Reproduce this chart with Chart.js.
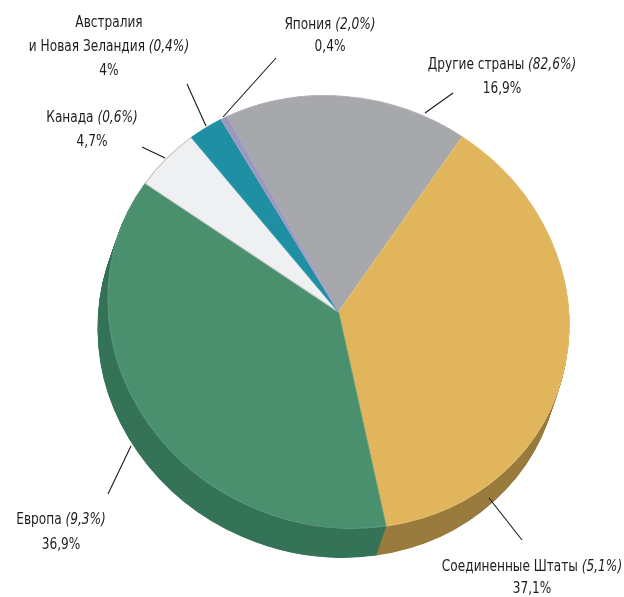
<!DOCTYPE html>
<html>
<head>
<meta charset="utf-8">
<script src="https://cdn.jsdelivr.net/npm/chart.js@4.4.1/dist/chart.umd.min.js"></script>
<style>
  html, body { margin: 0; padding: 0; background: #ffffff; }
  #wrap { width: 624px; height: 597px; position: relative; }
</style>
</head>
<body>
<div id="wrap"><canvas id="c" width="624" height="597"></canvas></div>
<script>
// ---- data ----
const categories = ['Другие страны', 'Соединенные Штаты', 'Европа', 'Канада', 'Австралия\nи Новая Зеландия', 'Япония'];
const sliceValues = [17.0, 37.5, 37.3, 4.8, 2.5, 0.44];
const valueLabels = ['16,9%', '37,1%', '36,9%', '4,7%', '4%', '0,4%'];
const shareLabels = ['(82,6%)', '(5,1%)', '(9,3%)', '(0,6%)', '(0,4%)', '(2,0%)'];

// ---- styles ----
const topColors  = ['#a7a8ab', '#e1b55c', '#4a8f6e', '#eff0f2', '#1f8fa4', '#9c98bd'];
const sideColors = ['#7d7e81', '#9a7c3f', '#367459', '#b9babd', '#176b7a', '#75728f'];
const edgeColors = ['#b4b5b8', '#e8c272', '#5c9c7e', '#c6c7ca', '#2f9aae', '#a8a4c6'];
const FONT = '"Liberation Sans Narrow", "DejaVu Sans Condensed", "Roboto Condensed", sans-serif';

// projected top face (screen space): centre, radii, shear; extrusion vector
const VIEW = { cx: 338.5, cy: 312, rx: 230.5, ry: 216, shear: 13, depthX: -10, depthY: 29 };

// label layout
const labelLayout = [
  { x: 502, y: 65, lh: 24, line: [453, 93, 425, 113] },
  { x: 532, y: 567, lh: 22, line: [489, 498, 522, 540] },
  { x: 61,  y: 520, lh: 25, line: [131, 446, 108, 494] },
  { x: 92,  y: 118, lh: 24, line: [142, 147, 165, 158] },
  { x: 109, y: 23,  lh: 24, line: [187, 84, 206, 126] },
  { x: 330, y: 25,  lh: 22, line: [276, 58, 223, 117] }
];

function viewMatrix(chart) {
  const meta = chart.getDatasetMeta(0);
  const arc = meta.data[0];
  const X0 = arc.x, Y0 = arc.y, R = arc.outerRadius;
  const a = VIEW.rx / R, b = VIEW.shear / R, d = VIEW.ry / R;
  return [a, b, 0, d, VIEW.cx - a * X0, VIEW.cy - b * X0 - d * Y0];
}

const projectPlugin = {
  id: 'project3d',
  beforeDatasetsDraw(chart) {
    const meta = chart.getDatasetMeta(0);
    const ctx = chart.ctx;
    const m = viewMatrix(chart);
    const N = 60;
    const drawFn = Chart.ArcElement.prototype.draw;
    for (let s = N; s >= 1; s--) {
      ctx.save();
      ctx.translate(VIEW.depthX * s / N, VIEW.depthY * s / N);
      ctx.transform(m[0], m[1], m[2], m[3], m[4], m[5]);
      meta.data.forEach((arc, i) => {
        const fake = Object.create(arc);
        fake.options = Object.assign({}, arc.options, {
          backgroundColor: sideColors[i], borderColor: sideColors[i], borderWidth: 1
        });
        drawFn.call(fake, ctx);
      });
      ctx.restore();
    }
    ctx.save();
    ctx.transform(m[0], m[1], m[2], m[3], m[4], m[5]);
  },
  afterDatasetsDraw(chart) {
    chart.ctx.restore();
  }
};

const labelPlugin = {
  id: 'pieLabels',
  afterDraw(chart) {
    const ctx = chart.ctx;
    const SX = 0.9;
    ctx.save();
    ctx.strokeStyle = '#1a1a1a';
    ctx.lineWidth = 1.1;
    ctx.fillStyle = '#1f1b1c';
    ctx.textBaseline = 'middle';
    ctx.textAlign = 'left';
    categories.forEach((cat, i) => {
      const L = labelLayout[i];
      const names = cat.split('\n');
      const lines = [];
      names.forEach((n, k) => {
        if (k === names.length - 1) lines.push([n + ' ', shareLabels[i]]);
        else lines.push([n, '']);
      });
      lines.push([valueLabels[i], '']);
      lines.forEach((seg, k) => {
        const y = L.y + k * L.lh;
        const fN = '15px ' + FONT, fI = 'italic 15px ' + FONT;
        ctx.font = fN; const w1 = ctx.measureText(seg[0]).width;
        ctx.font = fI; const w2 = seg[1] ? ctx.measureText(seg[1]).width : 0;
        const x = L.x / SX - (w1 + w2) / 2;
        ctx.save();
        ctx.scale(SX, 1);
        ctx.font = fN; ctx.fillText(seg[0], x, y);
        if (seg[1]) { ctx.font = fI; ctx.fillText(seg[1], x + w1, y); }
        ctx.restore();
      });
      const [x1, y1, x2, y2] = L.line;
      ctx.beginPath(); ctx.moveTo(x1, y1); ctx.lineTo(x2, y2); ctx.stroke();
    });
    ctx.restore();
  }
};

new Chart(document.getElementById('c'), {
  type: 'pie',
  data: {
    labels: categories,
    datasets: [{
      data: sliceValues,
      backgroundColor: topColors,
      borderColor: edgeColors,
      borderWidth: 1,
      clip: false
    }]
  },
  options: {
    responsive: false,
    animation: false,
    rotation: -29,
    layout: { padding: { left: 109, right: 55, top: 77, bottom: 60 } },
    plugins: { legend: { display: false }, tooltip: { enabled: false } }
  },
  plugins: [projectPlugin, labelPlugin]
});
</script>
</body>
</html>
